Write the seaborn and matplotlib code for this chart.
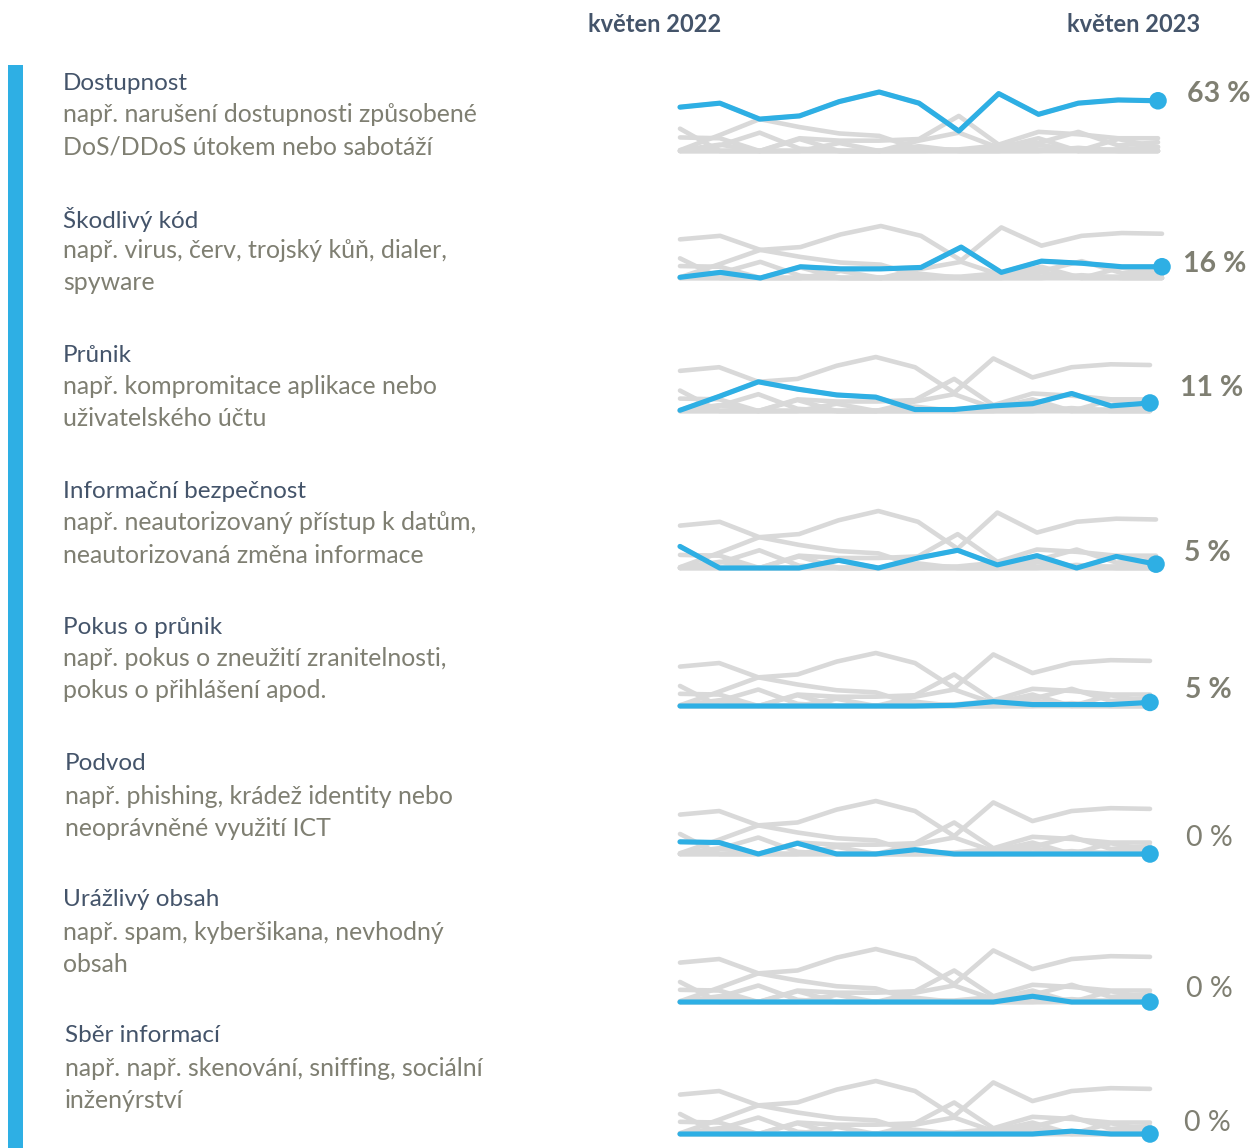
import matplotlib
matplotlib.use("Agg")
import matplotlib.pyplot as plt
from matplotlib.patches import Rectangle
import numpy as np
import pandas as pd
import seaborn as sns

# ---------------- data ----------------
months = ["05/2022", "06/2022", "07/2022", "08/2022", "09/2022", "10/2022", "11/2022",
          "12/2022", "01/2023", "02/2023", "03/2023", "04/2023", "05/2023"]
categories = ["Dostupnost", "Škodlivý kód", "Průnik", "Informační bezpečnost",
              "Pokus o průnik", "Podvod", "Urážlivý obsah", "Sběr informací"]
descriptions = [
    ["např. narušení dostupnosti způsobené", "DoS/DDoS útokem nebo sabotáží"],
    ["např. virus, červ, trojský kůň, dialer,", "spyware"],
    ["např. kompromitace aplikace nebo", "uživatelského účtu"],
    ["např. neautorizovaný přístup k datům,", "neautorizovaná změna informace"],
    ["např. pokus o zneužití zranitelnosti,", "pokus o přihlášení apod."],
    ["např. phishing, krádež identity nebo", "neoprávněné využití ICT"],
    ["např. spam, kyberšikana, nevhodný", "obsah"],
    ["např. např. skenování, sniffing, sociální", "inženýrství"],
]
dostupnost = [55, 60, 40, 44, 62, 74, 60, 25, 72, 46, 60, 64, 63]
skodlivy_kod = [1, 8, 0, 16, 13, 13, 15, 44, 8, 24, 21, 16, 16]
prunik = [1, 20, 40, 30, 22, 19, 2, 2, 7, 10, 24, 7, 11]
informacni = [28, 0, 0, 0, 10, 0, 13, 23, 4, 16, 0, 15, 5]
pokus = [0, 0, 0, 0, 0, 0, 0, 1, 6, 2, 2, 2, 5]
podvod = [17, 16, 0, 15, 0, 0, 6, 0, 0, 0, 0, 0, 0]
urazlivy = [0, 0, 0, 0, 0, 0, 0, 0, 0, 8, 0, 0, 0]
sber = [0, 0, 0, 0, 0, 0, 0, 0, 0, 0, 4, 0, 0]
ostatni = [0, 7, 23, 3, 0, 0, 0, 0, 0, 0, 0, 0, 0]  # background-only series
series = [dostupnost, skodlivy_kod, prunik, informacni, pokus, podvod, urazlivy, sber]
pct_labels = ["63 %", "16 %", "11 %", "5 %", "5 %", "0 %", "0 %", "0 %"]

rows = []
for name, vals in zip(categories + ["Ostatní"], series + [ostatni]):
    for i, v in enumerate(vals):
        rows.append({"cat": name, "idx": i, "month": months[i], "value": v})
df = pd.DataFrame(rows)

# ---------------- style ----------------
BLUE = "#2EAFE4"
GRAY = "#D9D9D9"
TITLE_C = "#44546A"
DESC_C = "#7F7F72"
W, H = 1258, 1148

sns.set_theme(style="white")
plt.rcParams["font.family"] = ["Lato", "DejaVu Sans"]

fig = plt.figure(figsize=(W / 100, H / 100), dpi=100)
fig.patch.set_facecolor("white")

# left blue bar
fig.add_artist(Rectangle((8 / W, 0), 15 / W, (H - 65) / H, transform=fig.transFigure,
                         facecolor=BLUE, edgecolor="none"))

# header
fig.text(655 / W, 1 - 24 / H, "květen 2022", ha="center", va="center",
         fontsize=17, fontweight="bold", color=TITLE_C)
fig.text(1134 / W, 1 - 24 / H, "květen 2023", ha="center", va="center",
         fontsize=17, fontweight="bold", color=TITLE_C)

# layout (pixels)
baselines = [151, 278, 411, 568, 706, 854, 1002, 1134]
heights = [59, 52, 54, 57, 53, 53, 53, 53]
right_edges = [1158, 1162, 1150, 1156, 1150, 1150, 1150, 1150]
title_y = [82, 218, 354, 490, 626, 763, 899, 1035]
title_x = [63, 63, 63, 63, 63, 65, 63, 65]
label_y = [94, 264, 388, 553, 690, 838, 989, 1123]
label_x = [1187, 1183, 1180, 1184, 1185, 1186, 1186, 1184]
x0 = 680

for k, name in enumerate(categories):
    ax = fig.add_axes([x0 / W, 1 - baselines[k] / H, (right_edges[k] - x0) / W,
                       heights[k] / H])
    sns.lineplot(data=df, x="idx", y="value", units="cat", estimator=None,
                 color=GRAY, lw=3.3, ax=ax, legend=False,
                 solid_capstyle="round", solid_joinstyle="round", clip_on=False)
    sub = df[df["cat"] == name]
    sns.lineplot(data=sub, x="idx", y="value", estimator=None, color=BLUE, lw=3.7,
                 ax=ax, legend=False, solid_capstyle="round", solid_joinstyle="round",
                 clip_on=False, zorder=5)
    last = sub[sub["idx"] == sub["idx"].max()]
    sns.scatterplot(data=last, x="idx", y="value", color=BLUE, s=160, ax=ax,
                    legend=False, edgecolor="none", zorder=6, clip_on=False)
    ax.set_xlim(0, 12)
    ax.set_ylim(0, 74)
    ax.axis("off")

    # texts
    fig.text(title_x[k] / W, 1 - (title_y[k] + 1) / H, name, ha="left", va="center",
             fontsize=17.5, color=TITLE_C)
    fig.text(title_x[k] / W, 1 - (title_y[k] + 33) / H, descriptions[k][0],
             ha="left", va="center", fontsize=17.9, color=DESC_C)
    fig.text(title_x[k] / W, 1 - (title_y[k] + 65) / H, descriptions[k][1],
             ha="left", va="center", fontsize=17.9, color=DESC_C)
    bold = series[k][-1] > 0
    fig.text(label_x[k] / W, 1 - label_y[k] / H, pct_labels[k], ha="left", va="center",
             fontsize=20.5, fontweight="bold" if bold else "normal", color=DESC_C)

fig.savefig("out.png", dpi=100, facecolor="white")
